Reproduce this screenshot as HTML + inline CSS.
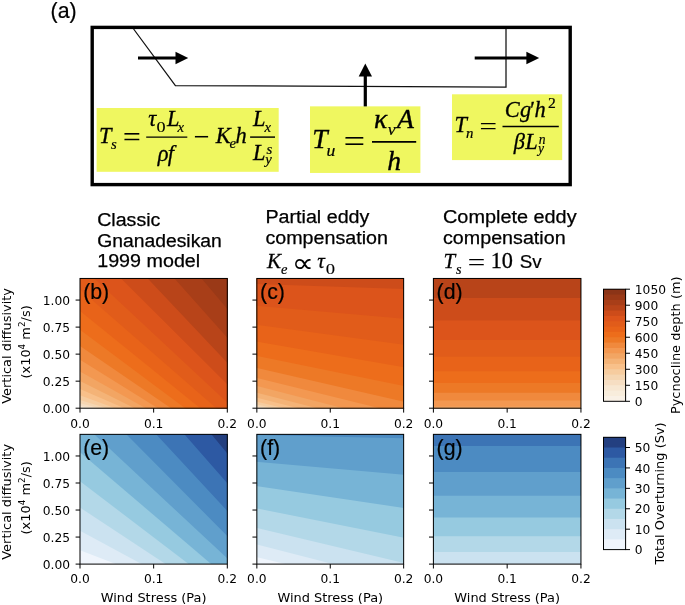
<!DOCTYPE html>
<html lang="en"><head><meta charset="utf-8"><title>Figure</title>
<style>html,body{margin:0;padding:0;background:#fff}svg{display:block}</style>
</head><body>
<svg width="685" height="605" viewBox="0 0 685 605">
<style>
.dj{font-family:"DejaVu Sans",sans-serif;font-size:12.25px;fill:#000}
.dl{font-family:"DejaVu Sans",sans-serif;font-size:12.95px;fill:#000}
.hv{font-family:"Liberation Sans",sans-serif;fill:#000;stroke:#000;stroke-width:0.2px}
.ti{font-family:"Liberation Sans",sans-serif;font-size:18px;fill:#000;stroke:#000;stroke-width:0.25px}
.m{font-family:"Liberation Serif",serif;font-style:italic;fill:#000;stroke:#000;stroke-width:0.32px}
.r{font-family:"Liberation Serif",serif;font-style:normal;fill:#000;stroke:#000;stroke-width:0.32px}
</style>
<rect width="685" height="605" fill="#fff"/>
<rect x="96.6" y="108.0" width="182.1" height="63.8" fill="#eff760"/>
<rect x="310" y="106.35" width="110.4" height="66.6" fill="#eff760"/>
<rect x="452" y="94.3" width="110.2" height="65.8" fill="#eff760"/>
<rect x="92.2" y="27.4" width="478.0" height="157.2" fill="none" stroke="#000" stroke-width="3.4"/>
<polyline points="133.6,29 175.4,85.6 506.0,87.2 506.0,29" fill="none" stroke="#111" stroke-width="1.25"/>
<line x1="138" y1="58" x2="177" y2="58" stroke="#000" stroke-width="3"/><polygon points="175.5,51.8 188.2,58 175.5,64.3" fill="#000"/>
<line x1="474.7" y1="58" x2="528" y2="58" stroke="#000" stroke-width="3"/><polygon points="526.4,51.8 539.2,58 526.4,64.3" fill="#000"/>
<line x1="365.3" y1="106.4" x2="365.3" y2="75" stroke="#000" stroke-width="3.2"/><polygon points="358.7,76.6 365.3,63.6 372,76.6" fill="#000"/>
<text x="50.6" y="18.1" class="hv" font-size="21.3">(a)</text>
<text x="98.93" y="142.80" class="m" font-size="22.4" style="stroke-width:0.30px" >T</text>
<text x="111.12" y="149.00" class="m" font-size="14.8" style="stroke-width:0.20px" >s</text>
<text transform="translate(122.94,146.20) scale(1.5688,1.4000)" class="r" style="font-size:20.0px;stroke-width:0.12px" >=</text>
<line x1="146.20" y1="137.10" x2="187.30" y2="137.10" stroke="#000" stroke-width="1.45"/>
<text x="148.31" y="125.50" class="m" font-size="22.4" style="stroke-width:0.30px" >τ</text>
<text transform="translate(156.61,131.56) scale(0.9084,0.7187)" class="r" style="font-size:20.0px;stroke-width:0.15px" >0</text>
<text x="166.96" y="125.50" class="m" font-size="22.4" style="stroke-width:0.30px" >L</text>
<text x="177.38" y="131.80" class="m" font-size="14.8" style="stroke-width:0.20px" >x</text>
<text x="157.67" y="160.50" class="m" font-size="22.4" style="stroke-width:0.30px" >ρ</text>
<text x="167.75" y="160.50" class="m" font-size="22.4" style="stroke-width:0.30px" >f</text>
<text transform="translate(193.39,147.33) scale(1.4183,1.5561)" class="r" style="font-size:20.0px;stroke-width:0.0px" >−</text>
<text x="215.66" y="142.70" class="m" font-size="22.4" style="stroke-width:0.30px" >K</text>
<text x="229.44" y="148.30" class="m" font-size="14.8" style="stroke-width:0.20px" >e</text>
<text x="235.59" y="142.70" class="m" font-size="22.4" style="stroke-width:0.30px" >h</text>
<line x1="250.10" y1="137.10" x2="275.00" y2="137.10" stroke="#000" stroke-width="1.45"/>
<text x="252.96" y="125.50" class="m" font-size="22.4" style="stroke-width:0.30px" >L</text>
<text x="264.38" y="131.80" class="m" font-size="14.8" style="stroke-width:0.20px" >x</text>
<text x="252.96" y="160.30" class="m" font-size="22.4" style="stroke-width:0.30px" >L</text>
<text x="266.52" y="153.60" class="m" font-size="14.8" style="stroke-width:0.20px" >s</text>
<text x="265.34" y="164.20" class="m" font-size="14.8" style="stroke-width:0.20px" >y</text>
<text x="312.29" y="148.30" class="m" font-size="27.6" style="stroke-width:0.37px" >T</text>
<text x="326.52" y="155.50" class="m" font-size="17.6" style="stroke-width:0.24px" >u</text>
<text transform="translate(343.78,152.23) scale(1.8804,1.5400)" class="r" style="font-size:20.0px;stroke-width:0.12px" >=</text>
<line x1="372.00" y1="141.95" x2="416.20" y2="141.95" stroke="#000" stroke-width="1.7"/>
<text x="374.09" y="127.85" class="m" font-size="27.6" style="stroke-width:0.37px" >κ</text>
<text x="387.66" y="134.50" class="m" font-size="17.6" style="stroke-width:0.24px" >v</text>
<text x="397.11" y="127.85" class="m" font-size="27.6" style="stroke-width:0.37px" >A</text>
<text x="387.20" y="169.70" class="m" font-size="27.6" style="stroke-width:0.37px" >h</text>
<text x="454.48" y="132.30" class="m" font-size="22.4" style="stroke-width:0.30px" >T</text>
<text x="466.07" y="137.50" class="m" font-size="14.8" style="stroke-width:0.20px" >n</text>
<text transform="translate(479.56,134.92) scale(1.5473,1.2300)" class="r" style="font-size:20.0px;stroke-width:0.12px" >=</text>
<line x1="502.50" y1="126.55" x2="558.80" y2="126.55" stroke="#000" stroke-width="1.45"/>
<text x="504.65" y="116.50" class="m" font-size="22.4" style="stroke-width:0.30px" >C</text>
<text x="519.89" y="116.50" class="m" font-size="22.4" style="stroke-width:0.30px" >g</text>
<text x="528.72" y="116.50" class="m" font-size="22.4" style="stroke-width:0.30px" >′</text>
<text x="534.49" y="116.50" class="m" font-size="22.4" style="stroke-width:0.30px" >h</text>
<text x="547.91" y="107.80" class="r" font-size="15.6" style="stroke-width:0.21px" >2</text>
<text x="513.66" y="149.00" class="m" font-size="22.4" style="stroke-width:0.30px" >β</text>
<text x="525.26" y="149.00" class="m" font-size="22.4" style="stroke-width:0.30px" >L</text>
<text x="538.82" y="143.60" class="m" font-size="13.6" style="stroke-width:0.18px" >n</text>
<text x="537.94" y="153.30" class="m" font-size="13.6" style="stroke-width:0.18px" >y</text>
<text x="97.2" y="226.0" class="ti" textLength="63.2" lengthAdjust="spacingAndGlyphs">Classic</text>
<text x="97.2" y="246.7" class="ti" textLength="124.6" lengthAdjust="spacingAndGlyphs">Gnanadesikan</text>
<text x="97.2" y="267.4" class="ti" textLength="103.0" lengthAdjust="spacingAndGlyphs">1999 model</text>
<text x="265.4" y="223.1" class="ti" textLength="104.0" lengthAdjust="spacingAndGlyphs">Partial eddy</text>
<text x="265.4" y="244.1" class="ti" textLength="122.6" lengthAdjust="spacingAndGlyphs">compensation</text>
<text x="443" y="223.1" class="ti" textLength="133.6" lengthAdjust="spacingAndGlyphs">Complete eddy</text>
<text x="443" y="244.1" class="ti" textLength="122.6" lengthAdjust="spacingAndGlyphs">compensation</text>
<text x="266.95" y="268.30" class="m" font-size="21" style="stroke-width:0.28px" >K</text>
<text x="280.95" y="274.30" class="m" font-size="14.5" style="stroke-width:0.20px" >e</text>
<text transform="translate(291.67,271.68) scale(1.5515,1.3333)" class="dj" style="font-size:20.0px;stroke-width:0.1px" >∝</text>
<text x="317.34" y="268.30" class="m" font-size="21" style="stroke-width:0.28px" >τ</text>
<text transform="translate(325.69,273.75) scale(0.9320,0.7706)" class="r" style="font-size:20.0px;stroke-width:0.15px" >0</text>
<text x="443.53" y="268.30" class="m" font-size="21" style="stroke-width:0.28px" >T</text>
<text x="455.93" y="274.30" class="m" font-size="14.2" style="stroke-width:0.19px" >s</text>
<text transform="translate(467.86,270.55) scale(1.5473,1.2500)" class="r" style="font-size:20.0px;stroke-width:0.12px" >=</text>
<text x="490.64" y="268.30" class="r" font-size="22.3" style="stroke-width:0.30px" >10</text>
<text x="519.81" y="268.30" class="hv" font-size="17.5" textLength="22" lengthAdjust="spacingAndGlyphs">Sv</text>
<clipPath id="c00"><rect x="80.00" y="278.45" width="147.30" height="129.75"/></clipPath>
<g clip-path="url(#c00)" shape-rendering="geometricPrecision">
<rect x="79.00" y="277.45" width="149.30" height="131.75" fill="#f9f1e6"/>
<polygon points="78.00,407.86 229.30,417.28 229.30,273.45 78.00,273.45" fill="#f8eddc"/>
<polygon points="78.00,406.98 229.30,425.81 229.30,273.45 78.00,273.45" fill="#f7e7d2"/>
<polygon points="78.00,405.38 229.30,433.61 229.30,273.45 78.00,273.45" fill="#f6dec3"/>
<polygon points="78.00,402.86 229.30,440.51 229.30,273.45 78.00,273.45" fill="#f5d6b2"/>
<polygon points="78.00,399.26 229.30,446.32 229.30,273.45 78.00,273.45" fill="#f6cc9f"/>
<polygon points="78.00,394.39 229.30,450.86 229.30,273.45 78.00,273.45" fill="#f8c08a"/>
<polygon points="78.00,388.06 229.30,453.94 229.30,273.45 78.00,273.45" fill="#f4b377"/>
<polygon points="78.00,380.09 229.30,455.39 229.30,273.45 78.00,273.45" fill="#f2a563"/>
<polygon points="78.00,370.31 229.30,455.02 229.30,273.45 78.00,273.45" fill="#f39851"/>
<polygon points="78.00,358.53 229.30,452.65 229.30,273.45 78.00,273.45" fill="#f0893d"/>
<polygon points="78.00,344.56 229.30,448.09 229.30,273.45 78.00,273.45" fill="#ed7926"/>
<polygon points="78.00,328.23 229.30,441.18 229.30,273.45 78.00,273.45" fill="#ed6d1b"/>
<polygon points="78.00,309.36 229.30,431.72 229.30,273.45 78.00,273.45" fill="#e86319"/>
<polygon points="78.00,287.76 229.30,419.53 229.30,273.45 78.00,273.45" fill="#e15c1a"/>
<polygon points="78.00,263.25 229.30,404.43 229.30,273.45 78.00,273.45" fill="#dc541b"/>
<polygon points="78.00,235.65 229.30,386.24 229.30,273.45 78.00,273.45" fill="#cd4c1a"/>
<polygon points="78.00,204.78 229.30,364.78 229.30,273.45 78.00,273.45" fill="#b84419"/>
<polygon points="78.00,170.45 229.30,339.86 229.30,273.45 78.00,273.45" fill="#a83e18"/>
<polygon points="78.00,132.48 229.30,311.31 229.30,273.45 78.00,273.45" fill="#9a3917"/>
</g>
<rect x="80.00" y="278.45" width="147.30" height="129.75" fill="none" stroke="#000" stroke-width="1"/>
<line x1="80.00" y1="408.20" x2="80.00" y2="412.60" stroke="#000" stroke-width="1"/>
<text x="80.00" y="427.50" text-anchor="middle" class="dj">0.0</text>
<line x1="153.65" y1="408.20" x2="153.65" y2="412.60" stroke="#000" stroke-width="1"/>
<text x="153.65" y="427.50" text-anchor="middle" class="dj">0.1</text>
<line x1="227.30" y1="408.20" x2="227.30" y2="412.60" stroke="#000" stroke-width="1"/>
<text x="227.30" y="427.50" text-anchor="middle" class="dj">0.2</text>
<line x1="80.00" y1="408.20" x2="75.60" y2="408.20" stroke="#000" stroke-width="1"/>
<text x="70.00" y="412.80" text-anchor="end" class="dj">0.00</text>
<line x1="80.00" y1="381.17" x2="75.60" y2="381.17" stroke="#000" stroke-width="1"/>
<text x="70.00" y="385.77" text-anchor="end" class="dj">0.25</text>
<line x1="80.00" y1="354.14" x2="75.60" y2="354.14" stroke="#000" stroke-width="1"/>
<text x="70.00" y="358.74" text-anchor="end" class="dj">0.50</text>
<line x1="80.00" y1="327.11" x2="75.60" y2="327.11" stroke="#000" stroke-width="1"/>
<text x="70.00" y="331.71" text-anchor="end" class="dj">0.75</text>
<line x1="80.00" y1="300.07" x2="75.60" y2="300.07" stroke="#000" stroke-width="1"/>
<text x="70.00" y="304.68" text-anchor="end" class="dj">1.00</text>
<text transform="translate(11.0,345.93) rotate(-90)" text-anchor="middle" class="dl">Vertical diffusivity</text>
<text transform="translate(29.5,341.93) rotate(-90)" text-anchor="middle" class="dl">(x10<tspan dy="-4.8" font-size="8.8">4</tspan><tspan dy="4.8"> m</tspan><tspan dy="-4.8" font-size="8.8">2</tspan><tspan dy="4.8">/s)</tspan></text>
<text x="83.20" y="299.05" class="hv" font-size="21.3">(b)</text>
<clipPath id="c01"><rect x="80.00" y="434.35" width="147.30" height="129.75"/></clipPath>
<g clip-path="url(#c01)" shape-rendering="geometricPrecision">
<rect x="79.00" y="433.35" width="149.30" height="131.75" fill="#f0f5fc"/>
<polygon points="78.00,549.59 229.30,607.22 229.30,429.35 78.00,429.35" fill="#deebf6"/>
<polygon points="78.00,529.75 229.30,611.26 229.30,429.35 78.00,429.35" fill="#cbe2f0"/>
<polygon points="78.00,506.23 229.30,606.06 229.30,429.35 78.00,429.35" fill="#b3d8e8"/>
<polygon points="78.00,479.71 229.30,594.98 229.30,429.35 78.00,429.35" fill="#96cae0"/>
<polygon points="78.00,450.59 229.30,579.47 229.30,429.35 78.00,429.35" fill="#77b4d6"/>
<polygon points="78.00,419.15 229.30,560.33 229.30,429.35 78.00,429.35" fill="#609fcc"/>
<polygon points="78.00,385.59 229.30,538.08 229.30,429.35 78.00,429.35" fill="#4c8bc2"/>
<polygon points="78.00,350.06 229.30,513.08 229.30,429.35 78.00,429.35" fill="#3c74b5"/>
<polygon points="78.00,312.69 229.30,485.60 229.30,429.35 78.00,429.35" fill="#2d59a3"/>
<polygon points="78.00,273.58 229.30,455.84 229.30,429.35 78.00,429.35" fill="#233f80"/>
</g>
<rect x="80.00" y="434.35" width="147.30" height="129.75" fill="none" stroke="#000" stroke-width="1"/>
<line x1="80.00" y1="564.10" x2="80.00" y2="568.50" stroke="#000" stroke-width="1"/>
<text x="80.00" y="583.40" text-anchor="middle" class="dj">0.0</text>
<line x1="153.65" y1="564.10" x2="153.65" y2="568.50" stroke="#000" stroke-width="1"/>
<text x="153.65" y="583.40" text-anchor="middle" class="dj">0.1</text>
<line x1="227.30" y1="564.10" x2="227.30" y2="568.50" stroke="#000" stroke-width="1"/>
<text x="227.30" y="583.40" text-anchor="middle" class="dj">0.2</text>
<line x1="80.00" y1="564.10" x2="75.60" y2="564.10" stroke="#000" stroke-width="1"/>
<text x="70.00" y="568.70" text-anchor="end" class="dj">0.00</text>
<line x1="80.00" y1="537.07" x2="75.60" y2="537.07" stroke="#000" stroke-width="1"/>
<text x="70.00" y="541.67" text-anchor="end" class="dj">0.25</text>
<line x1="80.00" y1="510.04" x2="75.60" y2="510.04" stroke="#000" stroke-width="1"/>
<text x="70.00" y="514.64" text-anchor="end" class="dj">0.50</text>
<line x1="80.00" y1="483.01" x2="75.60" y2="483.01" stroke="#000" stroke-width="1"/>
<text x="70.00" y="487.61" text-anchor="end" class="dj">0.75</text>
<line x1="80.00" y1="455.98" x2="75.60" y2="455.98" stroke="#000" stroke-width="1"/>
<text x="70.00" y="460.58" text-anchor="end" class="dj">1.00</text>
<text x="153.65" y="601.70" text-anchor="middle" class="dl">Wind Stress (Pa)</text>
<text transform="translate(11.0,501.83) rotate(-90)" text-anchor="middle" class="dl">Vertical diffusivity</text>
<text transform="translate(29.5,497.83) rotate(-90)" text-anchor="middle" class="dl">(x10<tspan dy="-4.8" font-size="8.8">4</tspan><tspan dy="4.8"> m</tspan><tspan dy="-4.8" font-size="8.8">2</tspan><tspan dy="4.8">/s)</tspan></text>
<text x="83.20" y="454.95" class="hv" font-size="21.3">(e)</text>
<clipPath id="c10"><rect x="256.85" y="278.45" width="146.80" height="129.75"/></clipPath>
<g clip-path="url(#c10)" shape-rendering="geometricPrecision">
<rect x="255.85" y="277.45" width="148.80" height="131.75" fill="#f9f1e6"/>
<polygon points="254.85,408.05 405.65,416.90 405.65,273.45 254.85,273.45" fill="#f8eddc"/>
<polygon points="254.85,407.74 405.65,424.29 405.65,273.45 254.85,273.45" fill="#f7e7d2"/>
<polygon points="254.85,407.07 405.65,430.19 405.65,273.45 254.85,273.45" fill="#f6dec3"/>
<polygon points="254.85,405.88 405.65,434.43 405.65,273.45 254.85,273.45" fill="#f5d6b2"/>
<polygon points="254.85,403.97 405.65,436.82 405.65,273.45 254.85,273.45" fill="#f6cc9f"/>
<polygon points="254.85,401.17 405.65,437.18 405.65,273.45 254.85,273.45" fill="#f8c08a"/>
<polygon points="254.85,397.29 405.65,435.32 405.65,273.45 254.85,273.45" fill="#f4b377"/>
<polygon points="254.85,392.16 405.65,431.06 405.65,273.45 254.85,273.45" fill="#f2a563"/>
<polygon points="254.85,385.58 405.65,424.23 405.65,273.45 254.85,273.45" fill="#f39851"/>
<polygon points="254.85,377.38 405.65,414.64 405.65,273.45 254.85,273.45" fill="#f0893d"/>
<polygon points="254.85,367.38 405.65,402.11 405.65,273.45 254.85,273.45" fill="#ed7926"/>
<polygon points="254.85,355.39 405.65,386.45 405.65,273.45 254.85,273.45" fill="#ed6d1b"/>
<polygon points="254.85,341.23 405.65,367.49 405.65,273.45 254.85,273.45" fill="#e86319"/>
<polygon points="254.85,324.72 405.65,345.04 405.65,273.45 254.85,273.45" fill="#e15c1a"/>
<polygon points="254.85,305.68 405.65,318.92 405.65,273.45 254.85,273.45" fill="#dc541b"/>
<polygon points="254.85,283.92 405.65,288.94 405.65,273.45 254.85,273.45" fill="#cd4c1a"/>
</g>
<rect x="256.85" y="278.45" width="146.80" height="129.75" fill="none" stroke="#000" stroke-width="1"/>
<line x1="256.85" y1="408.20" x2="256.85" y2="412.60" stroke="#000" stroke-width="1"/>
<text x="256.85" y="427.50" text-anchor="middle" class="dj">0.0</text>
<line x1="330.25" y1="408.20" x2="330.25" y2="412.60" stroke="#000" stroke-width="1"/>
<text x="330.25" y="427.50" text-anchor="middle" class="dj">0.1</text>
<line x1="403.65" y1="408.20" x2="403.65" y2="412.60" stroke="#000" stroke-width="1"/>
<text x="403.65" y="427.50" text-anchor="middle" class="dj">0.2</text>
<line x1="256.85" y1="408.20" x2="252.45" y2="408.20" stroke="#000" stroke-width="1"/>
<line x1="256.85" y1="381.17" x2="252.45" y2="381.17" stroke="#000" stroke-width="1"/>
<line x1="256.85" y1="354.14" x2="252.45" y2="354.14" stroke="#000" stroke-width="1"/>
<line x1="256.85" y1="327.11" x2="252.45" y2="327.11" stroke="#000" stroke-width="1"/>
<line x1="256.85" y1="300.07" x2="252.45" y2="300.07" stroke="#000" stroke-width="1"/>
<text x="260.05" y="299.05" class="hv" font-size="21.3">(c)</text>
<clipPath id="c11"><rect x="256.85" y="434.35" width="146.80" height="129.75"/></clipPath>
<g clip-path="url(#c11)" shape-rendering="geometricPrecision">
<rect x="255.85" y="433.35" width="148.80" height="131.75" fill="#f0f5fc"/>
<polygon points="254.85,556.65 405.65,592.97 405.65,429.35 254.85,429.35" fill="#deebf6"/>
<polygon points="254.85,543.89 405.65,582.75 405.65,429.35 254.85,429.35" fill="#cbe2f0"/>
<polygon points="254.85,527.44 405.65,563.30 405.65,429.35 254.85,429.35" fill="#b3d8e8"/>
<polygon points="254.85,507.99 405.65,537.97 405.65,429.35 254.85,429.35" fill="#96cae0"/>
<polygon points="254.85,485.95 405.65,508.21 405.65,429.35 254.85,429.35" fill="#77b4d6"/>
<polygon points="254.85,461.58 405.65,474.82 405.65,429.35 254.85,429.35" fill="#609fcc"/>
<polygon points="254.85,435.08 405.65,438.31 405.65,429.35 254.85,429.35" fill="#4c8bc2"/>
</g>
<rect x="256.85" y="434.35" width="146.80" height="129.75" fill="none" stroke="#000" stroke-width="1"/>
<line x1="256.85" y1="564.10" x2="256.85" y2="568.50" stroke="#000" stroke-width="1"/>
<text x="256.85" y="583.40" text-anchor="middle" class="dj">0.0</text>
<line x1="330.25" y1="564.10" x2="330.25" y2="568.50" stroke="#000" stroke-width="1"/>
<text x="330.25" y="583.40" text-anchor="middle" class="dj">0.1</text>
<line x1="403.65" y1="564.10" x2="403.65" y2="568.50" stroke="#000" stroke-width="1"/>
<text x="403.65" y="583.40" text-anchor="middle" class="dj">0.2</text>
<line x1="256.85" y1="564.10" x2="252.45" y2="564.10" stroke="#000" stroke-width="1"/>
<line x1="256.85" y1="537.07" x2="252.45" y2="537.07" stroke="#000" stroke-width="1"/>
<line x1="256.85" y1="510.04" x2="252.45" y2="510.04" stroke="#000" stroke-width="1"/>
<line x1="256.85" y1="483.01" x2="252.45" y2="483.01" stroke="#000" stroke-width="1"/>
<line x1="256.85" y1="455.98" x2="252.45" y2="455.98" stroke="#000" stroke-width="1"/>
<text x="330.25" y="601.70" text-anchor="middle" class="dl">Wind Stress (Pa)</text>
<text x="260.05" y="454.95" class="hv" font-size="21.3">(f)</text>
<clipPath id="c20"><rect x="433.40" y="278.45" width="147.55" height="129.75"/></clipPath>
<g clip-path="url(#c20)" shape-rendering="geometricPrecision">
<rect x="432.40" y="277.45" width="149.55" height="131.75" fill="#f9f1e6"/>
<rect x="432.40" y="277.45" width="149.55" height="131.75" fill="#f8eddc"/>
<rect x="432.40" y="277.45" width="149.55" height="131.75" fill="#f7e7d2"/>
<rect x="432.40" y="277.45" width="149.55" height="131.75" fill="#f6dec3"/>
<rect x="432.40" y="277.45" width="149.55" height="131.75" fill="#f5d6b2"/>
<rect x="432.40" y="277.45" width="149.55" height="131.75" fill="#f6cc9f"/>
<rect x="432.40" y="277.45" width="149.55" height="131.75" fill="#f8c08a"/>
<rect x="432.40" y="277.45" width="149.55" height="131.75" fill="#f4b377"/>
<rect x="432.40" y="277.45" width="149.55" height="131.75" fill="#f2a563"/>
<polygon points="431.40,406.56 582.95,406.56 582.95,273.45 431.40,273.45" fill="#f39851"/>
<polygon points="431.40,400.62 582.95,400.62 582.95,273.45 431.40,273.45" fill="#f0893d"/>
<polygon points="431.40,392.86 582.95,392.86 582.95,273.45 431.40,273.45" fill="#ed7926"/>
<polygon points="431.40,383.09 582.95,383.09 582.95,273.45 431.40,273.45" fill="#ed6d1b"/>
<polygon points="431.40,371.14 582.95,371.14 582.95,273.45 431.40,273.45" fill="#e86319"/>
<polygon points="431.40,356.83 582.95,356.83 582.95,273.45 431.40,273.45" fill="#e15c1a"/>
<polygon points="431.40,339.97 582.95,339.97 582.95,273.45 431.40,273.45" fill="#dc541b"/>
<polygon points="431.40,320.38 582.95,320.38 582.95,273.45 431.40,273.45" fill="#cd4c1a"/>
<polygon points="431.40,297.88 582.95,297.88 582.95,273.45 431.40,273.45" fill="#b84419"/>
</g>
<rect x="433.40" y="278.45" width="147.55" height="129.75" fill="none" stroke="#000" stroke-width="1"/>
<line x1="433.40" y1="408.20" x2="433.40" y2="412.60" stroke="#000" stroke-width="1"/>
<text x="433.40" y="427.50" text-anchor="middle" class="dj">0.0</text>
<line x1="507.17" y1="408.20" x2="507.17" y2="412.60" stroke="#000" stroke-width="1"/>
<text x="507.17" y="427.50" text-anchor="middle" class="dj">0.1</text>
<line x1="580.95" y1="408.20" x2="580.95" y2="412.60" stroke="#000" stroke-width="1"/>
<text x="580.95" y="427.50" text-anchor="middle" class="dj">0.2</text>
<line x1="433.40" y1="408.20" x2="429.00" y2="408.20" stroke="#000" stroke-width="1"/>
<line x1="433.40" y1="381.17" x2="429.00" y2="381.17" stroke="#000" stroke-width="1"/>
<line x1="433.40" y1="354.14" x2="429.00" y2="354.14" stroke="#000" stroke-width="1"/>
<line x1="433.40" y1="327.11" x2="429.00" y2="327.11" stroke="#000" stroke-width="1"/>
<line x1="433.40" y1="300.07" x2="429.00" y2="300.07" stroke="#000" stroke-width="1"/>
<text x="436.60" y="299.05" class="hv" font-size="21.3">(d)</text>
<clipPath id="c21"><rect x="433.40" y="434.35" width="147.55" height="129.75"/></clipPath>
<g clip-path="url(#c21)" shape-rendering="geometricPrecision">
<rect x="432.40" y="433.35" width="149.55" height="131.75" fill="#f0f5fc"/>
<rect x="432.40" y="433.35" width="149.55" height="131.75" fill="#deebf6"/>
<polygon points="431.40,564.10 582.95,564.10 582.95,429.35 431.40,429.35" fill="#cbe2f0"/>
<polygon points="431.40,552.04 582.95,552.04 582.95,429.35 431.40,429.35" fill="#b3d8e8"/>
<polygon points="431.40,536.24 582.95,536.24 582.95,429.35 431.40,429.35" fill="#96cae0"/>
<polygon points="431.40,517.38 582.95,517.38 582.95,429.35 431.40,429.35" fill="#77b4d6"/>
<polygon points="431.40,495.87 582.95,495.87 582.95,429.35 431.40,429.35" fill="#609fcc"/>
<polygon points="431.40,471.98 582.95,471.98 582.95,429.35 431.40,429.35" fill="#4c8bc2"/>
<polygon points="431.40,445.92 582.95,445.92 582.95,429.35 431.40,429.35" fill="#3c74b5"/>
</g>
<rect x="433.40" y="434.35" width="147.55" height="129.75" fill="none" stroke="#000" stroke-width="1"/>
<line x1="433.40" y1="564.10" x2="433.40" y2="568.50" stroke="#000" stroke-width="1"/>
<text x="433.40" y="583.40" text-anchor="middle" class="dj">0.0</text>
<line x1="507.17" y1="564.10" x2="507.17" y2="568.50" stroke="#000" stroke-width="1"/>
<text x="507.17" y="583.40" text-anchor="middle" class="dj">0.1</text>
<line x1="580.95" y1="564.10" x2="580.95" y2="568.50" stroke="#000" stroke-width="1"/>
<text x="580.95" y="583.40" text-anchor="middle" class="dj">0.2</text>
<line x1="433.40" y1="564.10" x2="429.00" y2="564.10" stroke="#000" stroke-width="1"/>
<line x1="433.40" y1="537.07" x2="429.00" y2="537.07" stroke="#000" stroke-width="1"/>
<line x1="433.40" y1="510.04" x2="429.00" y2="510.04" stroke="#000" stroke-width="1"/>
<line x1="433.40" y1="483.01" x2="429.00" y2="483.01" stroke="#000" stroke-width="1"/>
<line x1="433.40" y1="455.98" x2="429.00" y2="455.98" stroke="#000" stroke-width="1"/>
<text x="507.18" y="601.70" text-anchor="middle" class="dl">Wind Stress (Pa)</text>
<text x="436.60" y="454.95" class="hv" font-size="21.3">(g)</text>
<rect x="603.50" y="289.20" width="22.10" height="112.10" fill="#f9f1e6"/>
<rect x="603.50" y="289.20" width="22.10" height="106.76" fill="#f8eddc"/>
<rect x="603.50" y="289.20" width="22.10" height="101.42" fill="#f7e7d2"/>
<rect x="603.50" y="289.20" width="22.10" height="96.09" fill="#f6dec3"/>
<rect x="603.50" y="289.20" width="22.10" height="90.75" fill="#f5d6b2"/>
<rect x="603.50" y="289.20" width="22.10" height="85.41" fill="#f6cc9f"/>
<rect x="603.50" y="289.20" width="22.10" height="80.07" fill="#f8c08a"/>
<rect x="603.50" y="289.20" width="22.10" height="74.73" fill="#f4b377"/>
<rect x="603.50" y="289.20" width="22.10" height="69.40" fill="#f2a563"/>
<rect x="603.50" y="289.20" width="22.10" height="64.06" fill="#f39851"/>
<rect x="603.50" y="289.20" width="22.10" height="58.72" fill="#f0893d"/>
<rect x="603.50" y="289.20" width="22.10" height="53.38" fill="#ed7926"/>
<rect x="603.50" y="289.20" width="22.10" height="48.04" fill="#ed6d1b"/>
<rect x="603.50" y="289.20" width="22.10" height="42.70" fill="#e86319"/>
<rect x="603.50" y="289.20" width="22.10" height="37.37" fill="#e15c1a"/>
<rect x="603.50" y="289.20" width="22.10" height="32.03" fill="#dc541b"/>
<rect x="603.50" y="289.20" width="22.10" height="26.69" fill="#cd4c1a"/>
<rect x="603.50" y="289.20" width="22.10" height="21.35" fill="#b84419"/>
<rect x="603.50" y="289.20" width="22.10" height="16.01" fill="#a83e18"/>
<rect x="603.50" y="289.20" width="22.10" height="10.68" fill="#9a3917"/>
<rect x="603.50" y="289.20" width="22.10" height="5.34" fill="#8b3417"/>
<rect x="603.50" y="289.20" width="22.10" height="112.10" fill="none" stroke="#000" stroke-width="1"/>
<line x1="625.60" y1="401.30" x2="630.00" y2="401.30" stroke="#000" stroke-width="1"/>
<text x="634.80" y="406.00" class="dj">0</text>
<line x1="625.60" y1="385.29" x2="630.00" y2="385.29" stroke="#000" stroke-width="1"/>
<text x="634.80" y="389.99" class="dj">150</text>
<line x1="625.60" y1="369.27" x2="630.00" y2="369.27" stroke="#000" stroke-width="1"/>
<text x="634.80" y="373.97" class="dj">300</text>
<line x1="625.60" y1="353.26" x2="630.00" y2="353.26" stroke="#000" stroke-width="1"/>
<text x="634.80" y="357.96" class="dj">450</text>
<line x1="625.60" y1="337.24" x2="630.00" y2="337.24" stroke="#000" stroke-width="1"/>
<text x="634.80" y="341.94" class="dj">600</text>
<line x1="625.60" y1="321.23" x2="630.00" y2="321.23" stroke="#000" stroke-width="1"/>
<text x="634.80" y="325.93" class="dj">750</text>
<line x1="625.60" y1="305.21" x2="630.00" y2="305.21" stroke="#000" stroke-width="1"/>
<text x="634.80" y="309.91" class="dj">900</text>
<line x1="625.60" y1="289.20" x2="630.00" y2="289.20" stroke="#000" stroke-width="1"/>
<text x="634.80" y="293.90" class="dj">1050</text>
<text transform="translate(679.6,345.25) rotate(-90)" text-anchor="middle" class="dl">Pycnocline depth (m)</text>
<rect x="603.50" y="437.30" width="22.10" height="112.30" fill="#f0f5fc"/>
<rect x="603.50" y="437.30" width="22.10" height="102.09" fill="#deebf6"/>
<rect x="603.50" y="437.30" width="22.10" height="91.88" fill="#cbe2f0"/>
<rect x="603.50" y="437.30" width="22.10" height="81.67" fill="#b3d8e8"/>
<rect x="603.50" y="437.30" width="22.10" height="71.46" fill="#96cae0"/>
<rect x="603.50" y="437.30" width="22.10" height="61.25" fill="#77b4d6"/>
<rect x="603.50" y="437.30" width="22.10" height="51.05" fill="#609fcc"/>
<rect x="603.50" y="437.30" width="22.10" height="40.84" fill="#4c8bc2"/>
<rect x="603.50" y="437.30" width="22.10" height="30.63" fill="#3c74b5"/>
<rect x="603.50" y="437.30" width="22.10" height="20.42" fill="#2d59a3"/>
<rect x="603.50" y="437.30" width="22.10" height="10.21" fill="#233f80"/>
<rect x="603.50" y="437.30" width="22.10" height="112.30" fill="none" stroke="#000" stroke-width="1"/>
<line x1="625.60" y1="549.60" x2="630.00" y2="549.60" stroke="#000" stroke-width="1"/>
<text x="634.80" y="554.30" class="dj">0</text>
<line x1="625.60" y1="529.18" x2="630.00" y2="529.18" stroke="#000" stroke-width="1"/>
<text x="634.80" y="533.88" class="dj">10</text>
<line x1="625.60" y1="508.76" x2="630.00" y2="508.76" stroke="#000" stroke-width="1"/>
<text x="634.80" y="513.46" class="dj">20</text>
<line x1="625.60" y1="488.35" x2="630.00" y2="488.35" stroke="#000" stroke-width="1"/>
<text x="634.80" y="493.05" class="dj">30</text>
<line x1="625.60" y1="467.93" x2="630.00" y2="467.93" stroke="#000" stroke-width="1"/>
<text x="634.80" y="472.63" class="dj">40</text>
<line x1="625.60" y1="447.51" x2="630.00" y2="447.51" stroke="#000" stroke-width="1"/>
<text x="634.80" y="452.21" class="dj">50</text>
<text transform="translate(664.0,493.45) rotate(-90)" text-anchor="middle" class="dl">Total Overturning (Sv)</text>
</svg>
</body></html>
